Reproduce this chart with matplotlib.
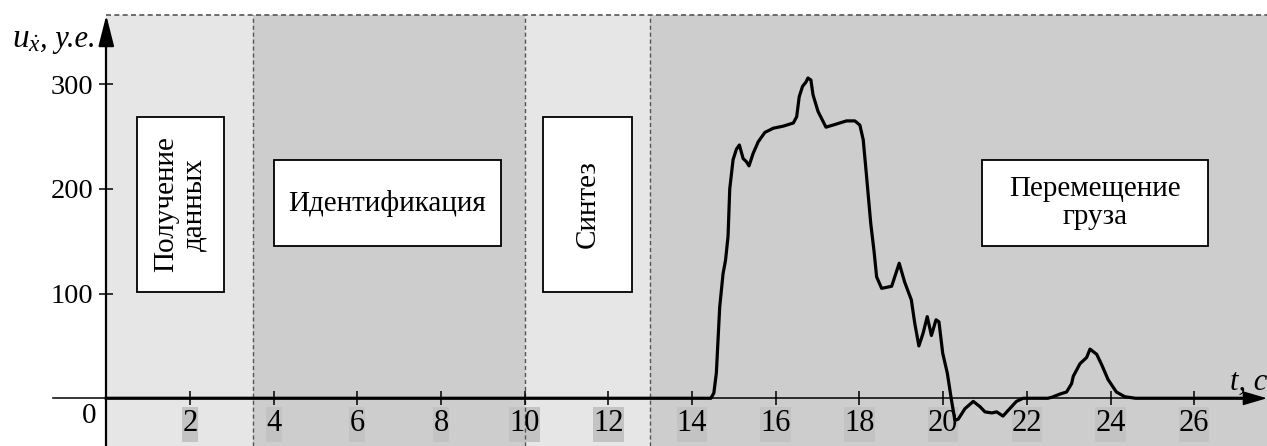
import matplotlib.pyplot as plt
from matplotlib.patches import Rectangle

# Control signal over time
t_s = [0, 14.45, 14.52, 14.58, 14.66, 14.74, 14.8, 14.86, 14.9, 14.98, 15.06,
       15.13, 15.22, 15.3, 15.36, 15.46, 15.58, 15.74, 15.94, 16.18, 16.42,
       16.5, 16.56, 16.64, 16.72, 16.77, 16.84, 16.89, 17.01, 17.2, 17.45,
       17.69, 17.89, 18.01, 18.09, 18.17, 18.27, 18.35, 18.41, 18.53, 18.77,
       18.95, 19.08, 19.24, 19.32, 19.42, 19.52, 19.62, 19.72, 19.83, 19.9,
       19.99, 20.1, 20.2, 20.28, 20.36, 20.52, 20.72, 20.88, 21.0, 21.16,
       21.28, 21.43, 21.59, 21.75, 21.91, 22.5, 22.6, 22.79, 22.95, 23.07,
       23.11, 23.27, 23.43, 23.51, 23.67, 23.79, 23.94, 24.14, 24.34, 24.6,
       27.3]
u_x = [0, 0, 5, 24, 87, 119, 132, 155, 200, 228, 238,
       242, 229, 226, 222, 234, 245, 254, 258, 260, 263,
       269, 288, 298, 302, 306, 304, 290, 274, 259, 262,
       265, 265, 261, 247, 212, 167, 140, 116, 105, 107,
       129, 111, 94, 72, 50, 62, 78, 60, 75, 73,
       43, 24, -2, -21, -20, -10, -3, -8, -13, -14,
       -13, -17, -10, -3, 0, 0, 1, 4, 6, 14,
       21, 33, 39, 47, 42, 32, 18, 6, 1.5, 0,
       0]

# Stages of the experiment
phase_edges = [0, 3.5, 10, 13, 27.8]
phase_names = ['Получение\nданных', 'Идентификация', 'Синтез', 'Перемещение\nгруза']

x_ticks = list(range(2, 27, 2))
y_ticks = [100, 200, 300]

plt.rcParams['font.family'] = ['Liberation Serif', 'DejaVu Serif']
plt.rcParams['mathtext.fontset'] = 'custom'
plt.rcParams['mathtext.rm'] = 'Liberation Serif'
plt.rcParams['mathtext.it'] = 'Liberation Serif:italic'

fig = plt.figure(figsize=(12.67, 4.46), dpi=100)
ax = fig.add_axes([0, 0, 1, 1])
x_lo, x_hi = -2.54, 27.74
y_lo, y_hi = -45.6, 380.5
top = 366
ax.set_xlim(x_lo, x_hi)
ax.set_ylim(y_lo, y_hi)

# shaded stage bands with dashed borders
shades = ['#e6e6e6', '#cdcdcd', '#e6e6e6', '#cdcdcd']
for i in range(len(phase_names)):
    a, b = phase_edges[i], phase_edges[i + 1]
    ax.add_patch(Rectangle((a, y_lo), b - a, top - y_lo, facecolor=shades[i],
                           edgecolor='none', zorder=0))
ax.hlines(top, phase_edges[0], x_hi, colors='#555555', lw=1.2,
          linestyles=(0, (3, 2)), zorder=1)
ax.vlines(phase_edges[1:-1], y_lo, top, colors='#555555', lw=1.0,
          linestyles=(0, (3, 2)), zorder=1)

# white boxes with stage names
box_x = [(0.73, 2.81), (4.01, 9.43), (10.44, 12.56), (20.92, 26.33)]
box_y = [(102, 269), (145, 228), (102, 269), (145, 228)]
rot = [90, 0, 90, 0]
for name, (bx0, bx1), (by0, by1), r in zip(phase_names, box_x, box_y, rot):
    ax.add_patch(Rectangle((bx0, by0), bx1 - bx0, by1 - by0, facecolor='white',
                           edgecolor='black', lw=1.3, zorder=2))
    ax.text((bx0 + bx1) / 2, (by0 + by1) / 2, name, rotation=r, ha='center',
            va='center', fontsize=21, linespacing=1.1, zorder=3)

# axes through the origin
ax.spines[['top', 'right']].set_visible(False)
ax.spines['left'].set_position(('data', 0))
ax.spines['bottom'].set_position(('data', 0))
ax.spines['left'].set_linewidth(1.6)
ax.spines['bottom'].set_linewidth(1.1)
ax.spines['left'].set_bounds(y_lo, top - 10)
ax.spines['bottom'].set_bounds(-1.27, x_hi - 0.3)
ax.annotate('', xy=(0, top), xytext=(0, top - 30),
            arrowprops=dict(arrowstyle='-|>,head_length=0.95,head_width=0.24',
                            mutation_scale=20, color='black', lw=1.6,
                            shrinkA=0, shrinkB=0), zorder=4)
ax.annotate('', xy=(x_hi, 0), xytext=(x_hi - 1, 0),
            arrowprops=dict(arrowstyle='-|>,head_length=0.75,head_width=0.22',
                            mutation_scale=20, color='black', lw=1.1,
                            shrinkA=0, shrinkB=0), zorder=4)

ax.set_xticks(x_ticks)
ax.set_yticks(y_ticks)
ax.set_xticklabels([str(t) for t in x_ticks])
ax.set_yticklabels([str(v) for v in y_ticks])
ax.tick_params(direction='inout', length=10, width=1.1, color='black')
ax.tick_params(axis='x', pad=2.5, labelsize=22)
ax.tick_params(axis='y', pad=4.5, labelsize=20.5)

# grey backing under the time labels
for t in x_ticks:
    w = 0.35 * len(str(t)) + 0.03
    ax.add_patch(Rectangle((t - w / 2, -41.7), w, 33.4, facecolor='#c3c3c3',
                           edgecolor='none', zorder=0.5))

ax.text(-0.42, -17, '0', fontsize=21, ha='center', va='center')

# the signal itself
ax.plot(t_s, u_x, color='black', lw=2.3, zorder=3, solid_joinstyle='round')

# axis captions
ax.text(12 / 1267, 1 - 47 / 446, r'$u_{\dot{x}}$', transform=ax.transAxes,
        fontsize=24, va='baseline', ha='left')
ax.text(40 / 1267, 1 - 47 / 446, ', у.е.', transform=ax.transAxes,
        fontsize=22, style='italic', va='baseline', ha='left')
ax.text(1230 / 1267, 1 - 390 / 446, 't, c', transform=ax.transAxes,
        fontsize=22, style='italic', va='baseline', ha='left')

fig.savefig('out.png', dpi=100)
